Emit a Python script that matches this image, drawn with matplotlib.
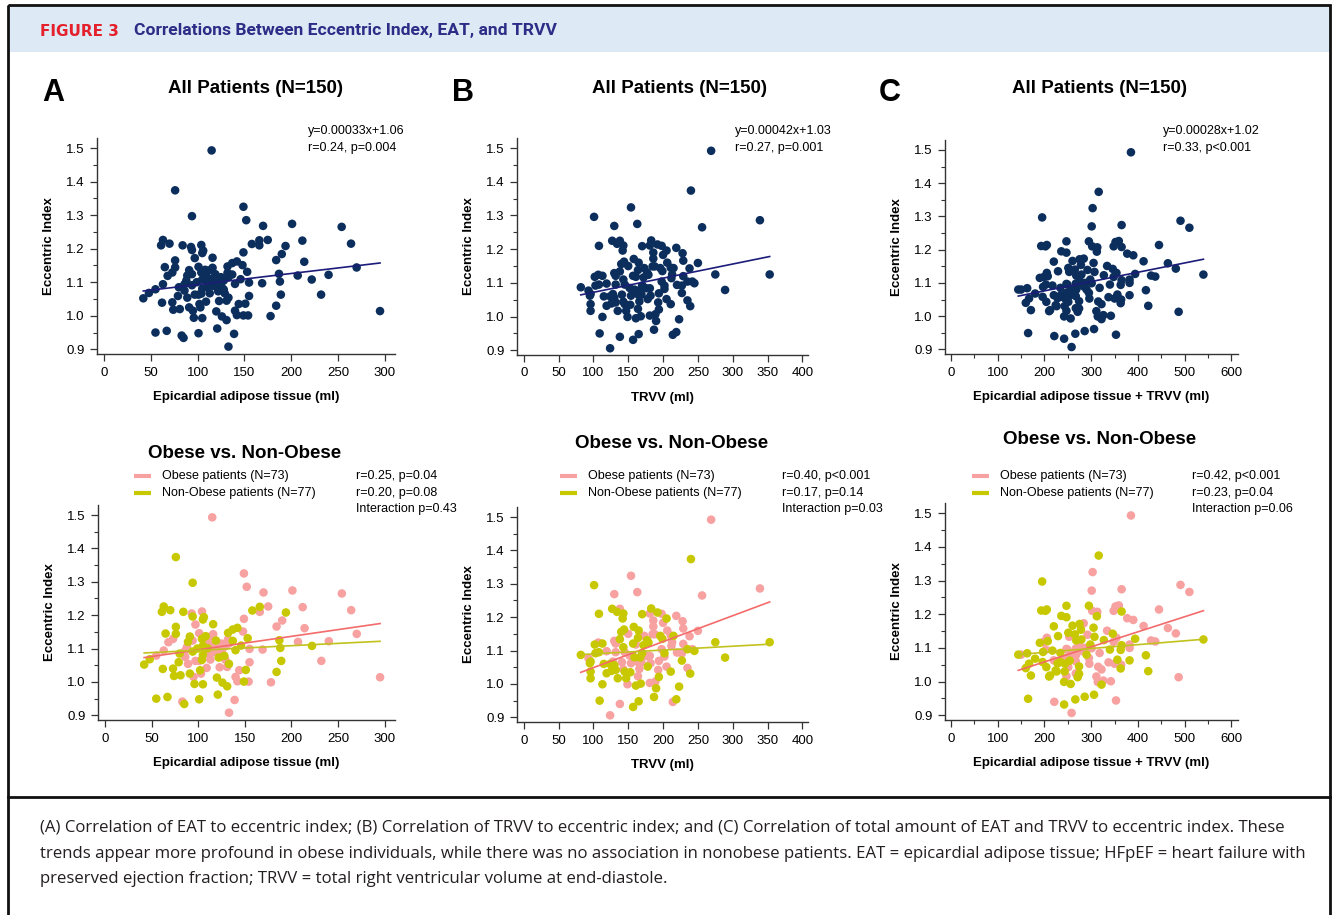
import numpy as np
import matplotlib
matplotlib.use('Agg')
import matplotlib.pyplot as plt
from matplotlib.patches import Rectangle

W, H = 1336, 915

# Panel A points: (EAT ml, eccentric index, obese flag)
points_eat = [
    (115, 1.493, 1), (76, 1.374, 0), (94, 1.297, 0), (149, 1.325, 1), (152, 1.285, 1),
    (170, 1.268, 1), (201, 1.274, 1), (254, 1.265, 1), (264, 1.215, 1), (212, 1.224, 1),
    (175, 1.226, 1), (166, 1.225, 0), (158, 1.214, 0), (166, 1.210, 1), (194, 1.208, 0),
    (190, 1.184, 1), (184, 1.166, 1), (214, 1.161, 1), (270, 1.144, 1), (295, 1.014, 1),
    (232, 1.063, 1), (240, 1.122, 1), (222, 1.108, 0), (207, 1.120, 1), (187, 1.125, 0),
    (188, 1.102, 0), (189, 1.063, 0), (184, 1.030, 0), (178, 0.999, 1), (169, 1.097, 1),
    (155, 1.099, 1), (155, 1.059, 1), (153, 1.131, 0), (151, 1.036, 0), (149, 1.001, 0),
    (154, 1.001, 1), (149, 1.189, 1), (148, 1.151, 1), (142, 1.162, 0), (137, 1.157, 0),
    (132, 1.147, 0), (132, 1.128, 1), (137, 1.123, 0), (133, 1.115, 1), (128, 1.105, 1),
    (125, 1.115, 1), (125, 1.090, 1), (128, 1.078, 0), (129, 1.067, 1), (133, 1.054, 0),
    (131, 1.045, 1), (123, 1.044, 1), (120, 1.013, 0), (126, 0.998, 0), (131, 0.987, 0),
    (140, 1.015, 1), (142, 1.002, 1), (144, 1.035, 1), (139, 0.946, 1), (121, 0.962, 0),
    (133, 0.908, 1), (101, 0.948, 0), (83, 0.941, 1), (85, 0.934, 0), (67, 0.955, 0),
    (55, 0.950, 0), (42, 1.052, 0), (48, 1.068, 0), (55, 1.079, 1), (62, 1.039, 0),
    (73, 1.040, 0), (74, 1.018, 0), (81, 1.020, 0), (79, 1.059, 0), (63, 1.094, 1),
    (68, 1.119, 1), (73, 1.129, 1), (65, 1.145, 0), (76, 1.144, 0), (76, 1.165, 0),
    (61, 1.210, 0), (63, 1.226, 0), (70, 1.215, 0), (84, 1.210, 0), (93, 1.205, 1),
    (94, 1.196, 0), (104, 1.211, 1), (106, 1.194, 0), (105, 1.187, 0), (97, 1.172, 1),
    (116, 1.173, 0), (116, 1.143, 1), (101, 1.146, 1), (108, 1.137, 0), (104, 1.129, 0),
    (91, 1.136, 0), (89, 1.120, 0), (94, 1.124, 1), (88, 1.105, 1), (86, 1.094, 1),
    (80, 1.085, 0), (94, 1.091, 0), (86, 1.075, 1), (89, 1.054, 1), (97, 1.063, 1),
    (101, 1.063, 1), (105, 1.108, 0), (109, 1.120, 1), (110, 1.101, 0), (111, 1.084, 1),
    (117, 1.089, 1), (115, 1.110, 1), (119, 1.124, 0), (113, 1.067, 1), (104, 1.066, 0),
    (105, 1.081, 0), (103, 1.025, 1), (95, 1.015, 1), (91, 1.025, 0), (96, 0.994, 0),
    (105, 0.993, 0), (109, 1.042, 1), (102, 1.035, 0), (146, 1.109, 0), (122, 1.073, 0),
    (127, 1.080, 1), (99, 1.100, 0), (112, 1.135, 1), (121, 1.100, 1), (140, 1.095, 0),
]

# Panel B points: (TRVV ml, eccentric index, obese flag)
points_trvv = [
    (269, 1.492, 1), (240, 1.374, 0), (154, 1.324, 1), (101, 1.296, 0), (130, 1.269, 1),
    (163, 1.275, 1), (256, 1.265, 1), (339, 1.286, 1), (353, 1.125, 0), (289, 1.079, 0),
    (275, 1.125, 0), (250, 1.159, 1), (238, 1.143, 1), (245, 1.099, 0), (242, 1.104, 1),
    (235, 1.104, 0), (229, 1.120, 1), (227, 1.092, 1), (227, 1.070, 0), (235, 1.048, 1),
    (239, 1.031, 0), (223, 0.992, 0), (219, 0.954, 0), (214, 0.946, 1), (228, 1.188, 1),
    (229, 1.166, 1), (219, 1.204, 1), (205, 1.196, 0), (200, 1.183, 1), (198, 1.210, 1),
    (192, 1.214, 0), (183, 1.226, 0), (181, 1.211, 1), (170, 1.209, 0), (186, 1.172, 1),
    (185, 1.149, 1), (179, 1.124, 0), (188, 1.149, 1), (196, 1.144, 0), (199, 1.135, 0),
    (198, 1.104, 1), (202, 1.092, 0), (202, 1.082, 1), (211, 1.145, 1), (215, 1.144, 0),
    (213, 1.125, 1), (212, 1.114, 1), (211, 1.037, 0), (205, 1.052, 1), (194, 1.069, 1),
    (193, 1.042, 1), (194, 1.021, 0), (190, 0.987, 0), (187, 0.961, 0), (189, 1.007, 1),
    (181, 1.003, 1), (182, 1.062, 1), (181, 1.084, 1), (172, 1.116, 0), (170, 1.092, 0),
    (167, 1.079, 0), (169, 1.065, 1), (165, 1.064, 1), (166, 1.045, 1), (164, 1.023, 1),
    (168, 1.001, 0), (161, 0.995, 0), (165, 0.948, 0), (157, 0.931, 0), (154, 1.062, 1),
    (153, 1.035, 0), (149, 0.999, 1), (147, 1.017, 0), (145, 1.037, 0), (143, 1.044, 1),
    (141, 1.065, 1), (135, 1.017, 0), (138, 0.940, 1), (124, 0.906, 1), (109, 0.950, 0),
    (113, 0.999, 0), (119, 1.032, 0), (126, 1.039, 0), (130, 1.056, 0), (132, 1.042, 0),
    (128, 1.067, 1), (124, 1.060, 0), (115, 1.060, 0), (119, 1.098, 1), (108, 1.095, 0),
    (103, 1.092, 0), (107, 1.124, 1), (102, 1.118, 0), (113, 1.121, 0), (93, 1.077, 1),
    (82, 1.087, 0), (95, 1.062, 0), (96, 1.037, 0), (96, 1.017, 0), (108, 1.210, 0),
    (127, 1.225, 0), (138, 1.225, 1), (134, 1.216, 0), (142, 1.196, 0), (143, 1.211, 0),
    (144, 1.163, 0), (140, 1.156, 0), (138, 1.134, 0), (132, 1.121, 1), (130, 1.129, 1),
    (132, 1.095, 1), (143, 1.110, 0), (145, 1.095, 1), (152, 1.085, 1), (158, 1.171, 0),
    (157, 1.121, 0), (164, 1.138, 0), (165, 1.160, 0), (161, 1.118, 1), (173, 1.144, 1),
    (177, 1.131, 0), (176, 1.084, 1), (178, 1.052, 0), (159, 1.080, 0), (171, 1.090, 1),
    (220, 1.094, 1), (96, 1.067, 0), (150, 1.150, 1), (186, 1.190, 1), (206, 1.160, 1),
]

# Panel C points: (EAT + TRVV ml, eccentric index, obese flag)
points_total = [
    (385, 1.493, 1), (316, 1.374, 0), (303, 1.325, 1), (301, 1.270, 1), (365, 1.274, 1),
    (491, 1.287, 1), (510, 1.266, 1), (195, 1.297, 0), (193, 1.211, 0), (202, 1.210, 0),
    (205, 1.214, 0), (247, 1.225, 0), (236, 1.195, 0), (247, 1.191, 0), (295, 1.225, 0),
    (302, 1.210, 1), (313, 1.207, 1), (312, 1.194, 0), (348, 1.210, 1), (352, 1.223, 1),
    (359, 1.226, 1), (365, 1.208, 0), (377, 1.188, 1), (390, 1.183, 1), (445, 1.214, 1),
    (412, 1.165, 1), (464, 1.159, 1), (481, 1.143, 1), (540, 1.125, 0), (487, 1.013, 1),
    (422, 1.031, 0), (417, 1.078, 0), (428, 1.122, 1), (437, 1.119, 1), (394, 1.127, 0),
    (382, 1.110, 1), (382, 1.100, 1), (365, 1.108, 0), (363, 1.094, 0), (354, 1.130, 1),
    (346, 1.142, 0), (348, 1.118, 1), (334, 1.151, 1), (327, 1.123, 0), (318, 1.085, 1),
    (337, 1.057, 1), (356, 1.065, 0), (364, 1.050, 1), (350, 1.053, 1), (363, 1.039, 0),
    (382, 1.063, 0), (342, 1.001, 1), (326, 1.003, 1), (322, 0.991, 0), (314, 0.999, 1),
    (353, 0.944, 1), (306, 0.961, 0), (311, 1.015, 1), (315, 1.044, 1), (322, 1.036, 1),
    (296, 1.053, 1), (295, 1.070, 1), (298, 1.110, 0), (292, 1.139, 1), (307, 1.133, 0),
    (305, 1.160, 0), (284, 1.173, 1), (275, 1.171, 0), (278, 1.154, 0), (265, 1.140, 0),
    (251, 1.145, 0), (253, 1.133, 1), (279, 1.125, 0), (276, 1.105, 1), (267, 1.098, 1),
    (287, 1.100, 1), (290, 1.080, 0), (268, 1.080, 1), (256, 1.080, 1), (249, 1.095, 1),
    (247, 1.070, 1), (254, 1.062, 0), (267, 1.060, 1), (274, 1.045, 0), (251, 1.043, 1),
    (244, 1.053, 0), (234, 1.058, 0), (228, 1.054, 0), (224, 1.033, 0), (226, 1.030, 0),
    (212, 1.018, 0), (243, 1.030, 0), (247, 1.016, 1), (242, 0.999, 0), (256, 0.993, 0),
    (267, 1.024, 1), (271, 1.013, 0), (274, 1.023, 0), (266, 0.947, 0), (286, 0.955, 0),
    (242, 0.932, 0), (221, 0.940, 1), (258, 0.907, 1), (165, 0.949, 0), (171, 1.018, 0),
    (167, 1.053, 0), (160, 1.040, 0), (163, 1.084, 0), (144, 1.080, 0), (150, 1.080, 1),
    (180, 1.068, 0), (196, 1.058, 0), (204, 1.043, 0), (210, 1.015, 0), (190, 1.115, 0),
    (199, 1.118, 1), (205, 1.130, 1), (207, 1.120, 0), (203, 1.095, 1), (197, 1.088, 0),
    (217, 1.092, 0), (220, 1.164, 0), (229, 1.135, 0), (247, 1.097, 1), (235, 1.063, 1),
    (220, 1.063, 1), (260, 1.166, 0), (268, 1.122, 0), (301, 1.099, 1), (234, 1.085, 0),
    (283, 1.090, 1), (340, 1.095, 0),
]

# Regression lines (slope, intercept)
fit_all = [(0.00033, 1.06), (0.00042, 1.03), (0.00028, 1.02)]
fit_obese = [(0.000403, 1.056), (0.000778, 0.971), (0.000447, 0.969)]
fit_nonobese = [(0.000138, 1.081), (0.000115, 1.0785), (0.000114, 1.064)]

# Texts
panel_letters = ['A', 'B', 'C']
x_labels = ['Epicardial adipose tissue (ml)', 'TRVV (ml)', 'Epicardial adipose tissue + TRVV (ml)']
top_stats = [
    ['y=0.00033x+1.06', 'r=0.24, p=0.004'],
    ['y=0.00042x+1.03', 'r=0.27, p=0.001'],
    ['y=0.00028x+1.02', 'r=0.33, p<0.001'],
]
bottom_stats = [
    ['r=0.25, p=0.04', 'r=0.20, p=0.08', 'Interaction p=0.43'],
    ['r=0.40, p<0.001', 'r=0.17, p=0.14', 'Interaction p=0.03'],
    ['r=0.42, p<0.001', 'r=0.23, p=0.04', 'Interaction p=0.06'],
]
legend_labels = ['Obese patients (N=73)', 'Non-Obese patients (N=77)']

# Colours
NAVY = '#0c2e5c'
NAVY_LINE = '#1c1c7a'
PINK = '#f7a1a1'
PINK_LINE = '#f46b6b'
OLIVE = '#c8c800'
OLIVE_LINE = '#c2c21e'

plt.rcParams['font.family'] = ['Liberation Sans', 'DejaVu Sans']

fig = plt.figure(figsize=(W / 100, H / 100), dpi=100)


def ftext(x, y, s, **kw):
    # place text with pixel coordinates measured from the top left
    fig.text(x / W, 1 - y / H, s, **kw)


def add_px_axes(l, t, r, b):
    return fig.add_axes([l / W, 1 - b / H, (r - l) / W, (b - t) / H])


# Frame, header band and caption separator
bg = fig.add_axes([0, 0, 1, 1])
bg.set_xlim(0, W)
bg.set_ylim(H, 0)
bg.axis('off')
bg.add_patch(Rectangle((8, 5), 1322, 47, facecolor='#dde9f5', edgecolor='none'))
bg.add_patch(Rectangle((8, 5), 1322, 912, facecolor='none', edgecolor='#111111', lw=2))
bg.plot([8, 1330], [797, 797], color='#111111', lw=2)

ftext(40, 31, 'FIGURE 3', color='#e4202c', fontsize=11, fontweight='bold',
      family='DejaVu Sans', va='center')
ftext(134, 31, 'Correlations Between Eccentric Index, EAT, and TRVV', color='#2b2d86',
      fontsize=12.6, fontweight='bold', family=['Roboto', 'DejaVu Sans'], va='center')

caption = [
    '(A) Correlation of EAT to eccentric index; (B) Correlation of TRVV to eccentric index; and (C) Correlation of total amount of EAT and TRVV to eccentric index. These',
    'trends appear more profound in obese individuals, while there was no association in nonobese patients. EAT = epicardial adipose tissue; HFpEF = heart failure with',
    'preserved ejection fraction; TRVV = total right ventricular volume at end-diastole.',
]
for i, line in enumerate(caption):
    ftext(40, 828 + i * 25.5, line, fontsize=12.1, color='#231f20',
          family=['Open Sans', 'DejaVu Sans'], va='center')

# Axes positions in pixels: (left, top, right, bottom)
top_boxes = [(97, 138, 395, 354), (517, 138, 808, 355), (945, 140, 1238, 354)]
bottom_boxes = [(98, 505, 395, 720), (517, 507, 808, 722), (945, 503, 1238, 720)]
x_limits = [(-7.5, 311), (-9.6, 408), (-12.8, 614)]
x_major = [50, 50, 100]
title_top = [(255, 88), (680, 88), (1100, 88)]
title_bottom = [(245, 453), (672, 444), (1100, 440)]
letter_pos = [(53, 93), (463, 93), (890, 93)]
stat_x_top = [308, 735, 1163]
stat_x_bottom = [356, 782, 1192]
legend_x = [134, 560, 972]
all_points = [points_eat, points_trvv, points_total]


def style_axes(ax, k, xlabel):
    ax.set_xlim(*x_limits[k])
    ax.set_ylim(0.886, 1.53)
    for side in ['top', 'right']:
        ax.spines[side].set_visible(False)
    for side in ['left', 'bottom']:
        ax.spines[side].set_color('#333333')
        ax.spines[side].set_linewidth(1.0)
    ax.xaxis.set_major_locator(plt.MultipleLocator(x_major[k]))
    ax.xaxis.set_minor_locator(plt.MultipleLocator(50))
    ax.yaxis.set_major_locator(plt.MultipleLocator(0.1))
    ax.yaxis.set_minor_locator(plt.MultipleLocator(0.05))
    ax.yaxis.set_major_formatter(plt.FormatStrFormatter('%.1f'))
    ax.tick_params(which='major', direction='out', length=5, width=0.9, labelsize=9.5,
                   color='#333333', pad=4)
    ax.tick_params(which='minor', direction='out', length=3, width=0.8, color='#333333')
    ax.set_xlabel(xlabel, fontsize=9.5, fontweight='bold', labelpad=9)
    ax.set_ylabel('Eccentric Index', fontsize=9.5, fontweight='bold', labelpad=8)


for k in range(3):
    pts = np.array(all_points[k])
    x, y, obese = pts[:, 0], pts[:, 1], pts[:, 2].astype(int)
    xs = np.array([x.min(), x.max()])

    # top row: all patients
    ax = add_px_axes(*top_boxes[k])
    style_axes(ax, k, x_labels[k])
    ax.scatter(x, y, s=38, color=NAVY, edgecolors='none', zorder=2)
    slope, icpt = fit_all[k]
    ax.plot(xs, slope * xs + icpt, color=NAVY_LINE, lw=1.2, zorder=3)

    ftext(letter_pos[k][0], letter_pos[k][1], panel_letters[k], fontsize=22,
          fontweight='bold', ha='center', va='center')
    ftext(title_top[k][0], title_top[k][1], 'All Patients (N=150)', fontsize=13.5,
          fontweight='bold', ha='center', va='center')
    ftext(stat_x_top[k], 131, top_stats[k][0], fontsize=9, va='center')
    ftext(stat_x_top[k], 148, top_stats[k][1], fontsize=9, va='center')

    # bottom row: obese vs non-obese
    ax = add_px_axes(*bottom_boxes[k])
    style_axes(ax, k, x_labels[k])
    ax.scatter(x[obese == 1], y[obese == 1], s=38, color=PINK, edgecolors='none', zorder=2)
    ax.scatter(x[obese == 0], y[obese == 0], s=38, color=OLIVE, edgecolors='none', zorder=2)
    slope, icpt = fit_obese[k]
    ax.plot(xs, slope * xs + icpt, color=PINK_LINE, lw=1.2, zorder=3)
    slope, icpt = fit_nonobese[k]
    ax.plot(xs, slope * xs + icpt, color=OLIVE_LINE, lw=1.2, zorder=3)

    ftext(title_bottom[k][0], title_bottom[k][1], 'Obese vs. Non-Obese', fontsize=13.5,
          fontweight='bold', ha='center', va='center')
    lx = legend_x[k]
    for j, (lab, col) in enumerate(zip(legend_labels, [PINK, OLIVE])):
        yy = 476 + j * 16.5
        bg.plot([lx, lx + 17], [yy, yy], color=col, lw=3, solid_capstyle='butt')
        ftext(lx + 28, yy, lab, fontsize=9, va='center')
    for j, s in enumerate(bottom_stats[k]):
        ftext(stat_x_bottom[k], 476 + j * 16.5, s, fontsize=9, va='center')

fig.savefig('out.png', dpi=100)
